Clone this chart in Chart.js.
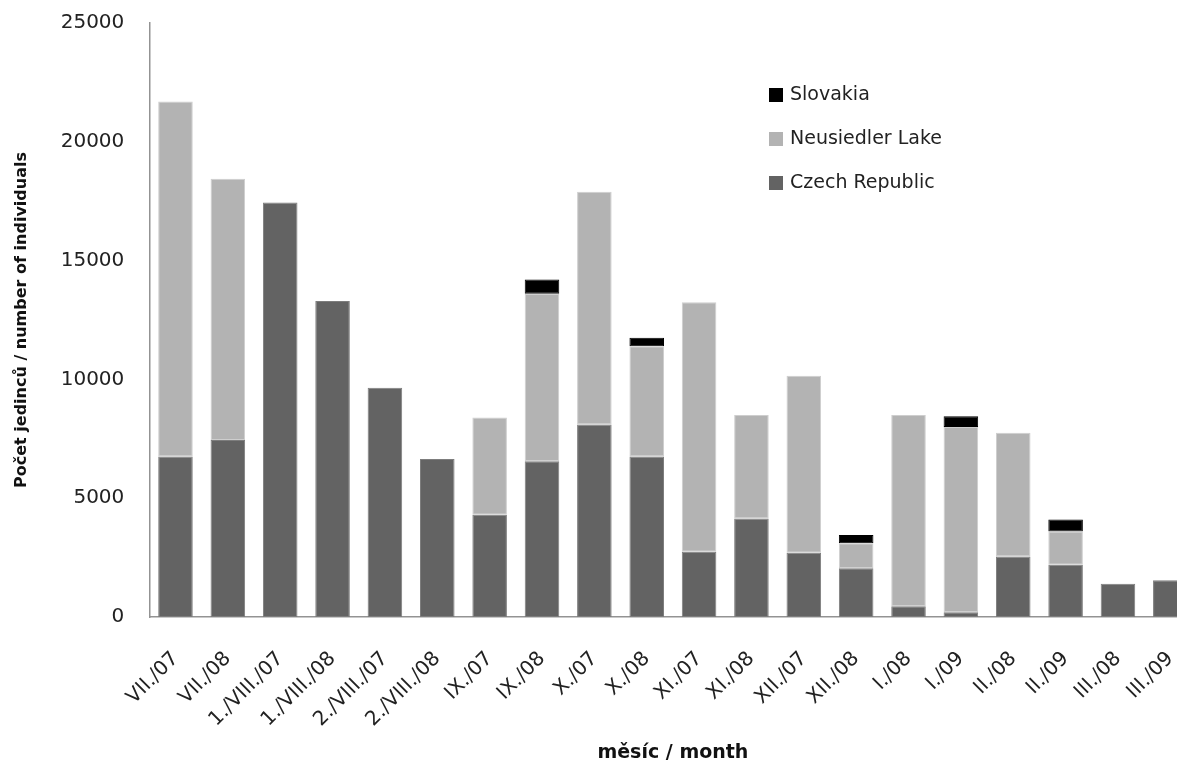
<!DOCTYPE html>
<html>
<head>
<meta charset="utf-8">
<script src="https://cdn.jsdelivr.net/npm/chart.js@4/dist/chart.umd.min.js"></script>
<style>
  html, body { margin: 0; padding: 0; background: #fff; }
  #wrap { width: 1177px; height: 765px; overflow: hidden; position: relative; }
  canvas { display: block; }
</style>
</head>
<body>
<div id="wrap"><canvas id="c" width="1215" height="765"></canvas></div>
<script>
// Sampling periods (month / year)
const categories = ['VII./07', 'VII./08', '1./VIII./07', '1./VIII./08', '2./VIII./07', '2./VIII./08',
  'IX./07', 'IX./08', 'X./07', 'X./08', 'XI./07', 'XI./08', 'XII./07', 'XII./08',
  'I./08', 'I./09', 'II./08', 'II./09', 'III./08', 'III./09'];

// Number of individuals per region
const czechRepublic = [6750, 7450, 17450, 13300, 9650, 6650, 4300, 6550, 8100, 6750,
  2750, 4150, 2700, 2050, 450, 200, 2550, 2200, 1400, 1550];
const neusiedlerLake = [14950, 11000, null, null, null, null, 4100, 7050, 9800, 4650,
  10500, 4350, 7450, 1050, 8050, 7800, 5200, 1400, null, null];
const slovakia = [null, null, null, null, null, null, null, 600, null, 350,
  null, null, null, 350, null, 450, null, 500, null, null];

// Value axis ticks
const yTicks = [0, 5000, 10000, 15000, 20000, 25000];

const FONT = '"DejaVu Sans", "Liberation Sans", sans-serif';

// Legend listed top-down in reverse stacking order, inside the plot area
const legendInside = {
  id: 'legendInside',
  afterDraw(chart) {
    const ctx = chart.ctx;
    const items = chart.data.datasets.slice().reverse();
    const x0 = 769, y0 = 95, gap = 44, box = 14;
    ctx.save();
    ctx.font = '19px ' + FONT;
    ctx.textBaseline = 'middle';
    ctx.textAlign = 'left';
    items.forEach((ds, i) => {
      const y = y0 + i * gap;
      ctx.fillStyle = ds.backgroundColor;
      ctx.fillRect(x0, y - box / 2, box, box);
      ctx.fillStyle = '#222';
      ctx.fillText(ds.label, x0 + 21, y);
    });
    ctx.restore();
  }
};

new Chart(document.getElementById('c'), {
  type: 'bar',
  data: {
    labels: categories,
    datasets: [
      { label: 'Czech Republic', data: czechRepublic, backgroundColor: '#636363', borderColor: '#7d7d7d' },
      { label: 'Neusiedler Lake', data: neusiedlerLake, backgroundColor: '#b3b3b3', borderColor: '#cecece' },
      { label: 'Slovakia', data: slovakia, backgroundColor: '#000000', borderColor: '#000000' }
    ]
  },
  options: {
    responsive: false,
    animation: false,
    devicePixelRatio: 1,
    layout: { padding: { top: 23, right: 18.5, bottom: 0, left: 0 } },
    datasets: {
      bar: { barPercentage: 0.66, categoryPercentage: 1, borderWidth: 1, borderSkipped: false }
    },
    plugins: {
      legend: { display: false },
      tooltip: { enabled: false }
    },
    scales: {
      x: {
        stacked: true,
        grid: { display: false, drawTicks: false },
        border: { display: true, color: '#939393', width: 1.5 },
        ticks: {
          autoSkip: false,
          minRotation: 45,
          maxRotation: 45,
          padding: 30,
          color: '#222',
          font: { family: FONT, size: 20 }
        },
        title: {
          display: true,
          text: 'měsíc / month',
          color: '#111',
          font: { family: FONT, size: 19, weight: 'bold' },
          padding: { top: 0, bottom: 1 }
        },
        afterFit(scale) {
          scale.height = 148;
          scale.paddingLeft = 0;
          scale.paddingRight = 0;
        }
      },
      y: {
        stacked: true,
        min: 0,
        max: 25000,
        grid: { display: false, drawTicks: false },
        border: { display: true, color: '#939393', width: 1.5 },
        afterBuildTicks(scale) { scale.ticks = yTicks.map(v => ({ value: v })); },
        ticks: {
          padding: 25,
          color: '#222',
          font: { family: FONT, size: 20 },
          callback: (v) => String(v)
        },
        title: {
          display: true,
          text: 'Počet jedinců / number of individuals',
          color: '#111',
          font: { family: FONT, size: 16, weight: 'bold' },
          padding: { top: 12, bottom: 0 }
        },
        afterFit(scale) {
          scale.width = 149.3;
          scale.paddingTop = 0;
          scale.paddingBottom = 0;
        }
      }
    }
  },
  plugins: [legendInside]
});
</script>
</body>
</html>
